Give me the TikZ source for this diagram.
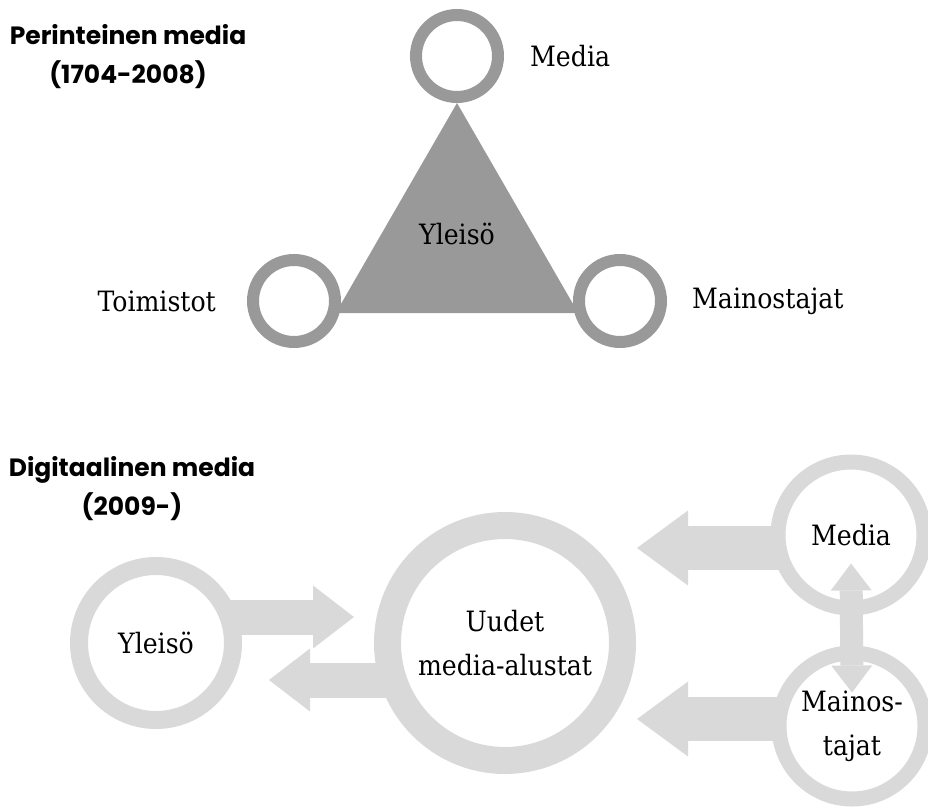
\documentclass[tikz,border=0pt]{standalone}
\usepackage{fontspec}
\newfontfamily\lblfont{DejaVu Serif Condensed}
\newfontfamily\headfont{Poppins}
\usetikzlibrary{shapes.geometric}
\usetikzlibrary{arrows.meta}
\usetikzlibrary{positioning}
\usetikzlibrary{backgrounds}
\definecolor{ringdark}{HTML}{999999}
\definecolor{ringlight}{HTML}{D9D9D9}
\tikzset{
	lbl/.style={font=\lblfont\fontsize{28}{44}\selectfont, inner sep=0pt, align=center},
	head/.style={font=\headfont\bfseries\fontsize{25}{39}\selectfont, inner sep=0pt, align=center},
	ringA/.style={circle, draw=ringdark, fill=white, line width=12pt, minimum size=82pt, inner sep=0pt},
	ringB/.style={circle, draw=ringlight, fill=white, inner sep=0pt},
	bigarrow/.style={draw=ringlight, line width=44pt, -{Triangle[width=75pt, length=51pt, line width=0pt]}},
	smallarrow/.style={draw=ringlight, line width=35pt, -{Triangle[width=63pt, length=41pt, line width=0pt]}},
	dblarrow/.style={draw=ringlight, line width=23pt, {Triangle[width=41pt, length=27pt, line width=0pt]}-{Triangle[width=41pt, length=27pt, line width=0pt]}},
}
\begin{document}
\begin{tikzpicture}[x=1pt, y=-1pt]
	\useasboundingbox (0,0) rectangle (928,808);
	% Perinteinen media:
	\node[head] (headA) at (128,57) {Perinteinen media\\(1704-2008)};
	\node[regular polygon, regular polygon sides=3, fill=ringdark, minimum size=280pt, inner sep=0pt] (tri) at (457,243) {};
	\node[lbl] (yleisoA) at ([yshift=9pt]tri.center) {Yleisö};
	\node[ringA] (mediaA) at (457,56) {};
	\node[ringA] (toim) at (294,301) {};
	\node[ringA] (mainA) at (620,301) {};
	\node[lbl, right=26pt of mediaA] (mediaAL) {Media};
	\node[lbl, left=31pt of toim] (toimL) {Toimistot};
	\node[lbl, right=25pt of mainA] (mainAL) {Mainostajat};
	% Digitaalinen media:
	\node[head] (headB) at (132,489) {Digitaalinen media\\(2009-)};
	\node[ringB, line width=18pt, minimum size=154pt, lbl] (yleisoB) at (156,643) {Yleisö};
	\node[ringB, line width=27pt, minimum size=235pt, lbl] (uudet) at (505,643) {Uudet\\media-alustat};
	\node[ringB, line width=15pt, minimum size=146pt, lbl] (mediaB) at (851,535) {Media};
	\node[ringB, line width=15pt, minimum size=146pt, lbl] (mainosB) at (852,726) {Mainos-\\tajat};
	\coordinate (mtip) at (637,548);
	\coordinate (atip) at (637,719);
	\coordinate (ytip) at (354,617);
	\coordinate (btip) at (269,680);
	\begin{scope}[on background layer]
		\draw[bigarrow] (mediaB.center |- mtip) -- (mtip);
		\draw[bigarrow] (mainosB.center |- atip) -- (atip);
		\draw[smallarrow] (yleisoB.center |- ytip) -- (ytip);
		\draw[smallarrow] (uudet.center |- btip) -- (btip);
	\end{scope}
	\draw[dblarrow] ([yshift=52pt]mediaB.south) -- ([yshift=-47pt]mainosB.north);
\end{tikzpicture}
\end{document}
